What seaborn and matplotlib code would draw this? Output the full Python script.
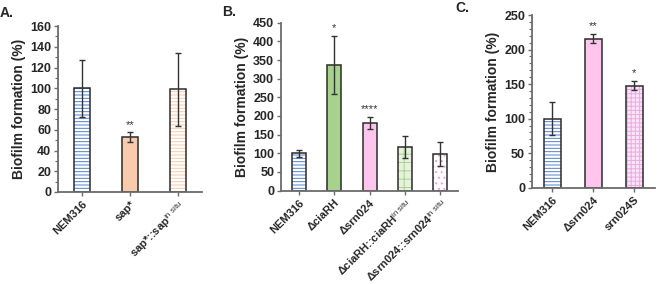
import numpy as np
import pandas as pd
import matplotlib
matplotlib.use('Agg')
import matplotlib.pyplot as plt
import seaborn as sns
from matplotlib.patches import Rectangle
from matplotlib.ticker import MultipleLocator

# --- data ---
a_strains = ["NEM316", "sap*", "sap*::sap$^{\\mathrm{in\\ situ}}$"]
a_values = [100, 53, 99]
a_errors = [27.5, 4.5, 35.5]
a_stars = ["", "**", ""]

b_strains = ["NEM316", "\u0394ciaRH", "\u0394srn024",
             "\u0394ciaRH::ciaRH$^{\\mathrm{in\\ situ}}$",
             "\u0394srn024::srn024$^{\\mathrm{in\\ situ}}$"]
b_values = [100, 337, 181, 117, 98]
b_errors = [10, 78, 16, 28.5, 32]
b_stars = ["", "*", "****", "", ""]

c_strains = ["NEM316", "\u0394srn024", "srn024S"]
c_values = [100, 216, 148]
c_errors = [24, 7, 7]
c_stars = ["", "**", "*"]

sns.set_theme(style="ticks")
plt.rcParams['font.family'] = ['Liberation Sans', 'DejaVu Sans']
plt.rcParams['mathtext.fontset'] = 'custom'
plt.rcParams['mathtext.rm'] = 'Liberation Sans'
plt.rcParams['mathtext.it'] = 'Liberation Sans:italic'
plt.rcParams['mathtext.bf'] = 'Liberation Sans:bold'
plt.rcParams['hatch.linewidth'] = 0.7

BLUE = "#4F7FCF"
EDGE = "#2b2b2b"
SPINE = "#6b6b6b"

# (face, hatch, hatch colour)
styles_a = [("white", "-----", BLUE), ("#F8CBAD", None, None), ("white", "-----", "#F8C9A8")]
styles_b = [("white", "-----", BLUE), ("#A9D18E", None, None), ("#FFC5EC", None, None),
            ("#E6F2DC", "++", "#A9D18E"), ("white", "...", "#F49AD8")]
styles_c = [("white", "-----", BLUE), ("#FFC5EC", None, None), ("#FCE4F6", "++++", "#F4A6E3")]

fig = plt.figure(figsize=(6.6, 2.84), dpi=100)


def panel(rect, strains, values, errors, stars, styles, ymax, major, minor, width, letter, lpos):
    ax = fig.add_axes(rect)
    df = pd.DataFrame({"strain": strains, "value": values, "err": errors})
    sns.barplot(data=df, x="strain", y="value", hue="strain",
                palette=[s[0] for s in styles], legend=False, width=width,
                errorbar=None, saturation=1, ax=ax,
                edgecolor=EDGE, linewidth=1.1)
    for p, (face, hatch, hcol) in zip(ax.patches, styles):
        if hatch:
            p.set_hatch(hatch)
            p.set_edgecolor(hcol)
            p.set_linewidth(0)
            ax.add_patch(Rectangle(p.get_xy(), p.get_width(), p.get_height(),
                                   fill=False, edgecolor=EDGE, linewidth=1.1, zorder=p.get_zorder() + 0.01))
    x = np.arange(len(values))
    ax.errorbar(x, df["value"], yerr=df["err"], fmt="none", ecolor="#333333",
                elinewidth=1.0, capsize=2, capthick=1.0, zorder=5)
    for xi, v, e, s in zip(x, values, errors, stars):
        if s:
            ax.text(xi, v + e + ymax * 0.015, s, ha="center", va="bottom",
                    fontsize=8, color="#333333")
    ax.set_xlim(-0.5, len(values) - 0.5)
    ax.set_ylim(0, ymax)
    ax.yaxis.set_major_locator(MultipleLocator(major))
    if minor:
        ax.yaxis.set_minor_locator(MultipleLocator(minor))
    ax.set_xlabel("")
    ax.set_ylabel("Biofilm formation (%)", fontsize=10, fontweight="bold", labelpad=3)
    ax.set_xticks(x)
    ax.set_xticklabels(strains, rotation=45, ha="right", rotation_mode="anchor",
                       fontsize=8, fontweight="bold")
    for lab in ax.get_yticklabels():
        lab.set_fontweight("bold")
        lab.set_fontsize(9)
    ax.tick_params(axis="both", which="major", length=3, width=1, color=SPINE, pad=2)
    ax.tick_params(axis="y", which="minor", length=2, width=0.8, color=SPINE)
    sns.despine(ax=ax)
    for sp in ("left", "bottom"):
        ax.spines[sp].set_color(SPINE)
        ax.spines[sp].set_linewidth(1.3)
    fig.text(lpos[0], lpos[1], letter, fontsize=10, fontweight="bold", ha="left", va="center")
    return ax


panel([0.088, 0.324, 0.218, 0.584], a_strains, a_values, a_errors, a_stars, styles_a,
      160, 20, 10, 0.32, "A.", (0.0, 0.955))
panel([0.426, 0.329, 0.268, 0.591], b_strains, b_values, b_errors, b_stars, styles_b,
      450, 50, None, 0.4, "B.", (0.336, 0.958))
panel([0.806, 0.339, 0.186, 0.608], c_strains, c_values, c_errors, c_stars, styles_c,
      250, 50, 10, 0.42, "C.", (0.69, 0.972))

fig.savefig("out.png", dpi=100)
